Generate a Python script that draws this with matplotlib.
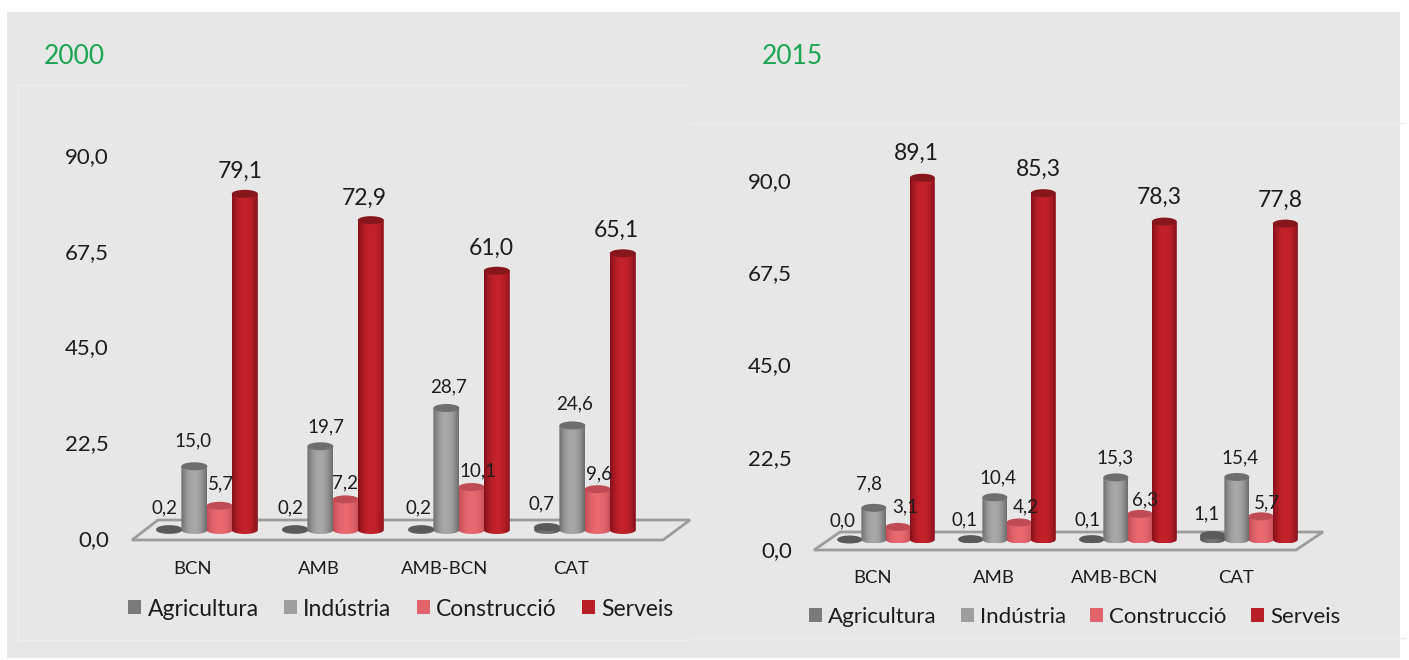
import numpy as np
import matplotlib
matplotlib.use('Agg')
import matplotlib.pyplot as plt
from matplotlib.colors import LinearSegmentedColormap
from matplotlib.lines import Line2D
from matplotlib.patches import Ellipse, Polygon, Rectangle
from matplotlib.path import Path

plt.rcParams['font.family'] = ['Lato', 'DejaVu Sans']

# Datos
titulos = ['2000', '2015']
territorios = ['BCN', 'AMB', 'AMB-BCN', 'CAT']
sectores = ['Agricultura', 'Indústria', 'Construcció', 'Serveis']
valores_2000 = [[0.2, 0.2, 0.2, 0.7],
                [15.0, 19.7, 28.7, 24.6],
                [5.7, 7.2, 10.1, 9.6],
                [79.1, 72.9, 61.0, 65.1]]
valores_2015 = [[0.0, 0.1, 0.1, 1.1],
                [7.8, 10.4, 15.3, 15.4],
                [3.1, 4.2, 6.3, 5.7],
                [89.1, 85.3, 78.3, 77.8]]
ticks_y = [0, 22.5, 45, 67.5, 90]

# Estilo de cada sector: borde, centro, tapa, leyenda
colores = [('#4f4f4f', '#757575', '#5a5a5a', '#7a7a7a'),
           ('#6c6c6c', '#a8a8a8', '#6e6e6e', '#9e9e9e'),
           ('#c44e56', '#ea6a71', '#bf4c54', '#e2646b'),
           ('#84101a', '#c4222b', '#86161c', '#b81f26')]

# Ajustes manuales de las etiquetas, en pixeles (dx, dy) respecto de la tapa
ajustes_2000 = [[(-5, 21), (-5, 21), (-3, 21), (-6, 23)],
                [(-1, 25), (6, 19), (2, 21), (2, 22)],
                [(1, 22), (-1, 17), (6, 16), (1, 15)],
                [(-5, 22), (-7, 22), (-6, 22), (-6, 23)]]
ajustes_2015 = [[(-7, 19), (-6, 19), (-4, 19), (-6, 21)],
                [(-5, 24), (3, 19), (-1, 20), (3, 19)],
                [(7, 20), (7, 16), (5, 14), (6, 13)],
                [(-6, 24), (-5, 24), (-5, 24), (-5, 23)]]

W, H = 1409, 660
ALTO_TAPA = 8
PT = 0.72
TEXTO = '#1c1c1c'

fig = plt.figure(figsize=(W / 100, H / 100), dpi=100, facecolor='white')

# Lienzo en pixeles para el fondo y los textos sueltos
fondo = fig.add_axes([0, 0, 1, 1])
fondo.set_xlim(0, W)
fondo.set_ylim(H, 0)
fondo.axis('off')
fondo.add_patch(Rectangle((7, 12), 1393, 646, color='#e7e7e7', lw=0))
for xs, ys in [((18, 18), (85, 640)), ((18, 690), (85, 85)), ((18, 690), (640, 640)),
               ((690, 1405), (123, 123)), ((690, 1405), (638, 638))]:
    fondo.add_line(Line2D(xs, ys, color='#ededed', lw=1))


def panel(valores, ajustes, titulo, x_titulo, y_titulo, x_grupo, paso, ancho_px, y_base, esc,
          y_cero, y_noventa, x_eje, suelo, x_cat, x_ley, y_ley, sep_ley, tam_ley):
    fondo.text(x_titulo, y_titulo, titulo, color='#1aa552', fontsize=19, ha='left', va='center')
    fondo.add_patch(Polygon(suelo, closed=True, facecolor='none', edgecolor='#9c9c9c', lw=2))

    # Eje de valores: va desplazado respecto de las barras, como en la perspectiva original
    eje = fig.add_axes([x_eje / W, 1 - y_cero / H, 10 / W, (y_cero - y_noventa) / H])
    eje.patch.set_alpha(0)
    eje.set_ylim(0, 90)
    eje.set_xticks([])
    eje.set_yticks(ticks_y)
    eje.set_yticklabels([f'{t:.1f}'.replace('.', ',') for t in ticks_y], fontsize=16, color=TEXTO)
    eje.tick_params(axis='y', length=0, pad=0)
    for s in eje.spines.values():
        s.set_visible(False)

    # Ejes de las barras, con margen por debajo de cero para la base del cilindro
    x0 = x_grupo - paso / 2
    ax = fig.add_axes([x0 / W, 1 - (y_base + 5 * esc) / H, 4 * paso / W, 105 * esc / H])
    ax.patch.set_alpha(0)
    ancho = ancho_px / paso
    alto = ALTO_TAPA / esc
    grad = np.abs(np.linspace(-1, 1, 64))[None, :] ** 2

    for j, sector in enumerate(sectores):
        cmap = LinearSegmentedColormap.from_list(sector, [colores[j][1], colores[j][0]])
        for i, v in enumerate(valores[j]):
            cx = i + (j - 1.5) * 0.2
            t = np.linspace(np.pi, 2 * np.pi, 30)
            contorno = np.column_stack([cx + ancho / 2 * np.cos(t), alto / 2 * np.sin(t)])
            contorno = np.vstack([contorno, [cx + ancho / 2, v], [cx - ancho / 2, v], contorno[:1]])
            im = ax.imshow(grad, extent=(cx - ancho / 2, cx + ancho / 2, -alto / 2, max(v, 0.01)),
                           cmap=cmap, vmin=0, vmax=1, aspect='auto', zorder=2 + j)
            im.set_clip_path(Path(contorno), ax.transData)
            ax.add_patch(Ellipse((cx, v), ancho, alto, color=colores[j][2], lw=0, zorder=2 + j,
                                 clip_on=False))
            dx, dy = ajustes[j][i]
            ax.annotate(f'{v:.1f}'.replace('.', ','), (cx, v), xytext=(dx * PT, dy * PT),
                        textcoords='offset points', ha='center', va='center',
                        fontsize=16.5 if j == 3 else 13.5, color=TEXTO, zorder=10,
                        annotation_clip=False)

    ax.set_xlim(-0.5, 3.5)
    ax.set_ylim(-5, 100)
    ax.set_yticks([])
    ax.set_xticks(np.arange(4) + (x_cat - x_grupo) / paso)
    ax.set_xticklabels(territorios, fontsize=13.3, color=TEXTO)
    ax.tick_params(axis='x', length=0, pad=22 - 5 * esc * PT)
    for s in ax.spines.values():
        s.set_visible(False)

    # Leyenda
    manijas = [Rectangle((0, 0), 1, 1, color=c[3], lw=0) for c in colores]
    fondo.legend(manijas, sectores, loc='center left', bbox_to_anchor=(x_ley, y_ley),
                 bbox_transform=fondo.transData, ncol=4, frameon=False, fontsize=tam_ley,
                 handlelength=0.57, handleheight=0.57, handletextpad=0.28,
                 columnspacing=sep_ley, borderpad=0, borderaxespad=0, labelcolor=TEXTO)
    return fondo.get_legend()


ley1 = panel(valores_2000, ajustes_2000, titulos[0], 44, 56, 207, 126, 26, 530, 4.25,
             538, 155, 109, [(132, 540), (663, 540), (690, 520), (158, 520)], 193, 128, 609, 1.1, 16.5)
fondo.add_artist(ley1)
panel(valores_2015, ajustes_2015, titulos[1], 762, 56, 886, 121, 25, 539.5, 4.06,
      549, 180, 792, [(814, 550), (1296, 550), (1323, 532), (840, 532)], 873, 809, 617, 1.1, 16)

fig.savefig('out.png', dpi=100, facecolor='white')
